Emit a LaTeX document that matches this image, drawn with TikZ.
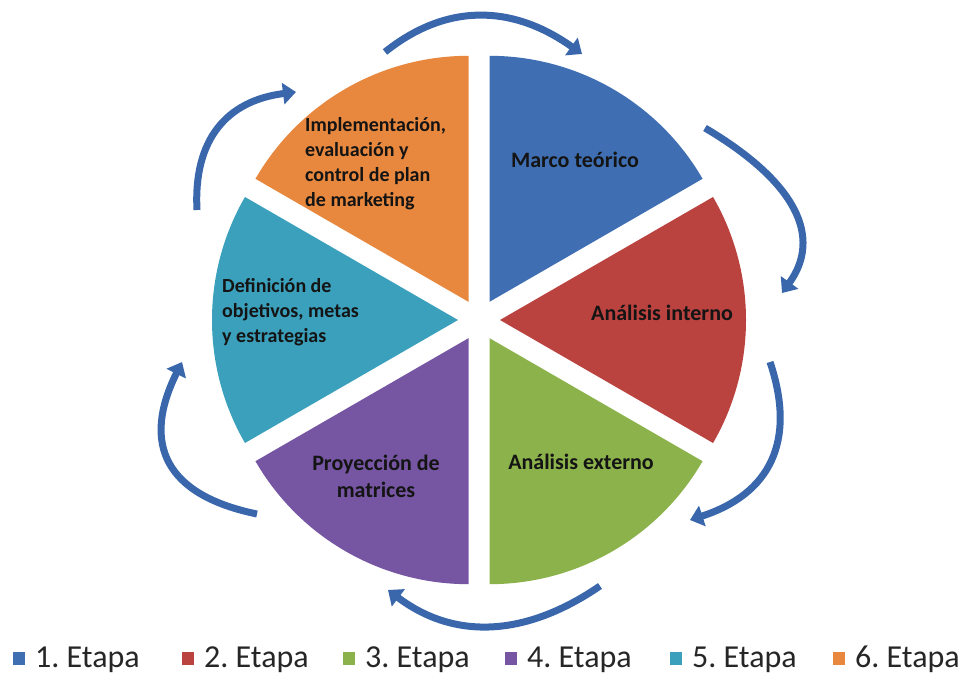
\documentclass[tikz,border=0pt]{standalone}
\usepackage{fontspec}
\setmainfont{Carlito}
\usetikzlibrary{arrows.meta,calc}
\frenchspacing

% stage colours
\definecolor{sblue}{HTML}{3F6FB2}
\definecolor{sred}{HTML}{BA423F}
\definecolor{sgreen}{HTML}{8BB24B}
\definecolor{spurple}{HTML}{7655A3}
\definecolor{steal}{HTML}{3AA0BC}
\definecolor{sorange}{HTML}{E8883E}
\definecolor{arrowblue}{HTML}{3A67AB}
\definecolor{labeltext}{HTML}{141414}
\definecolor{legendtext}{HTML}{262626}

\begin{document}
\begin{tikzpicture}[x=1pt,y=1pt,
  cyclearrow/.style={draw=arrowblue, line width=7pt,
    -{Triangle[width=21pt,length=13pt]}},
  stagelabel/.style={font=\fontsize{22}{27}\selectfont\bfseries,
    text=labeltext, inner sep=0pt},
  stagenote/.style={font=\fontsize{20}{25}\selectfont\bfseries,
    text=labeltext, inner sep=0pt, align=left, anchor=west},
  legendbox/.style={fill=#1, draw=none},
  legendlabel/.style={font=\fontsize{32}{36}\selectfont,
    text=legendtext, anchor=base west, inner sep=0pt}]

\useasboundingbox (0,0) rectangle (973,681);
\fill[white] (0,0) rectangle (973,681);

% exploded pie: six 60-degree sectors pushed out along their bisectors
\coordinate (C) at (479,361);
\foreach \a/\b/\col in {30/90/sblue, -30/30/sred, -90/-30/sgreen,
                        -150/-90/spurple, 150/210/steal, 90/150/sorange} {
  \fill[\col] ($(C)+({(\a+\b)/2}:21)$) -- ++(\a:246)
    arc[start angle=\a, end angle=\b, radius=246] -- cycle;
}

% stage texts
\node[stagelabel] (t1) at (575,521) {Marco teórico};
\node[stagelabel] (t2) at (662,368) {Análisis interno};
\node[stagelabel] (t3) at (581,219) {Análisis externo};
\node[stagelabel, align=center] (t4) at (376,205) {Proyección de\\matrices};
\node[stagenote] (t5) at (222,369)
  {Definición de\\objetivos, metas\\y estrategias};
\node[stagenote] (t6) at (305,517)
  {Implementación,\\evaluación y\\control de plan\\de marketing};

% curved arrows running clockwise round the pie
\coordinate (a1s) at (385,629);  \coordinate (a1e) at (582,627);
\coordinate (a2s) at (705,553);  \coordinate (a2e) at (782,388);
\coordinate (a3s) at (770,319);  \coordinate (a3e) at (690,161);
\coordinate (a4s) at (600,95);   \coordinate (a4e) at (388,91);
\coordinate (a5s) at (257,167);  \coordinate (a5e) at (182,319);
\coordinate (a6s) at (197,471);  \coordinate (a6e) at (296,589);

\draw[cyclearrow] (a1s) .. controls (446,677.7) and (511.7,677) .. (a1e);
\draw[cyclearrow] (a2s) .. controls (796.7,498.7) and (822.3,443.7) .. (a2e);
\draw[cyclearrow] (a3s) .. controls (796.7,239.7) and (770,187) .. (a3e);
\draw[cyclearrow] (a4s) .. controls (524,43) and (453.3,41.7) .. (a4e);
\draw[cyclearrow] (a5s) .. controls (166,185.7) and (141,236.3) .. (a5e);
\draw[cyclearrow] (a6s) .. controls (193.3,541) and (226.3,580.3) .. (a6e);

% legend
\foreach \x/\col/\n in {13/sblue/1, 182/sred/2, 343/sgreen/3,
                        505/spurple/4, 670/steal/5, 833/sorange/6} {
  \fill[legendbox=\col] (\x,16) rectangle ++(12,13);
  \node[legendlabel] (leg\n) at (\x+22,14) {\n. Etapa};
}
\end{tikzpicture}
\end{document}
